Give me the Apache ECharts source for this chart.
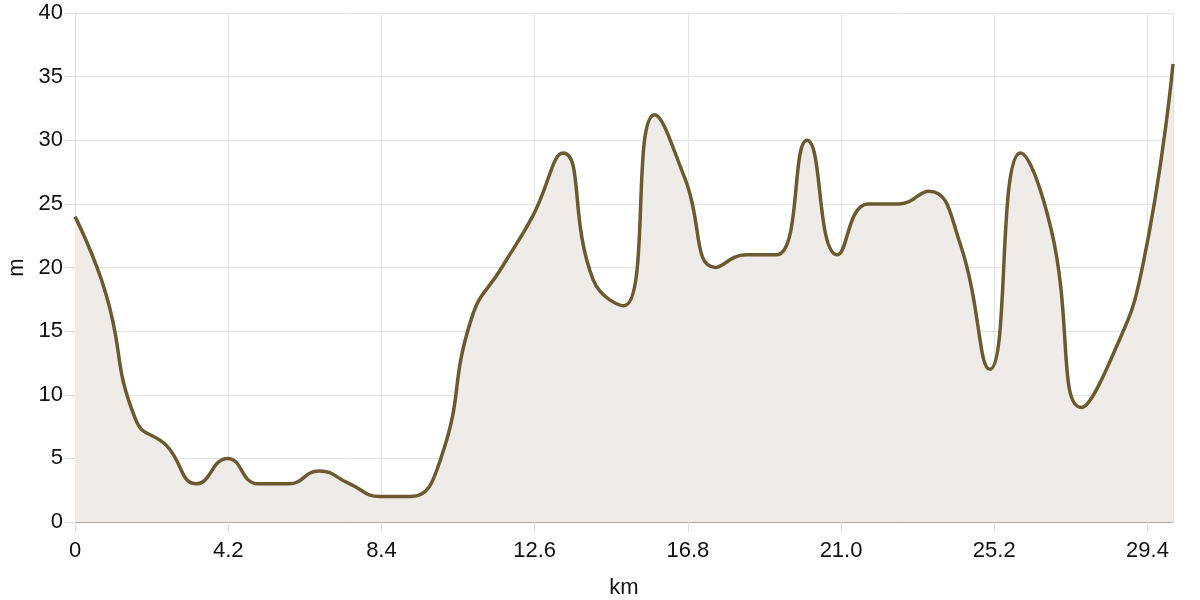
<!DOCTYPE html>
<html>
<head>
<meta charset="utf-8">
<script src="https://cdn.jsdelivr.net/npm/echarts@6/dist/echarts.min.js"></script>
<style>html,body{margin:0;padding:0;background:#fff}#c{width:1200px;height:600px}</style>
</head>
<body>
<div id="c"></div>
<script>
const distanceKm = [0, 0.84, 1.67, 2.51, 3.34, 4.18, 5.02, 5.85, 6.69, 7.53, 8.36, 9.2, 10.03, 10.87, 11.7, 12.54, 13.38, 14.21, 15.05, 15.89, 16.72, 17.56, 18.4, 19.23, 20.07, 20.9, 21.74, 22.58, 23.41, 24.25, 25.08, 25.92, 26.76, 27.59, 28.43, 29.26, 30.1];
const elevationM = [24, 18, 8, 6, 3, 5, 3, 3, 4, 3, 2, 2, 5, 16, 20, 24, 29, 19, 17, 32, 27, 20, 21, 21, 30, 21, 25, 25, 26, 22, 12, 29, 23, 9, 13, 20, 36];
const xAxisName = 'km';
const yAxisName = 'm';

const font = '"Liberation Sans", Arial, sans-serif';
const chart = echarts.init(document.getElementById('c'), null, {renderer: 'canvas'});
chart.setOption({
  animation: false,
  grid: {left: 75, right: 27, top: 13, bottom: 78, containLabel: false, outerBoundsMode: 'none'},
  xAxis: {
    type: 'value', min: 0, max: distanceKm[distanceKm.length - 1], interval: 4.2,
    name: xAxisName, nameLocation: 'middle', nameGap: 55,
    nameTextStyle: {color: '#111', fontSize: 22, fontFamily: font},
    axisLine: {show: true, lineStyle: {color: '#aaa', width: 1}},
    axisTick: {show: true, length: 10, lineStyle: {color: '#ddd'}},
    axisLabel: {color: '#111', fontSize: 22, fontFamily: font, margin: 18, showMaxLabel: false,
      formatter: v => v === 0 ? '0' : v.toFixed(1)},
    splitLine: {show: true, lineStyle: {color: '#e3e3e3', width: 1}}
  },
  yAxis: {
    type: 'value', min: 0, max: 40, interval: 5,
    name: yAxisName, nameLocation: 'middle', nameGap: 47,
    nameTextStyle: {color: '#111', fontSize: 22, fontFamily: font},
    axisLine: {show: true, lineStyle: {color: '#ddd', width: 1}},
    axisTick: {show: true, length: 10, lineStyle: {color: '#ddd'}},
    axisLabel: {color: '#111', fontSize: 22, fontFamily: font, margin: 12},
    splitLine: {show: true, lineStyle: {color: '#e3e3e3', width: 1}}
  },
  series: [{
    type: 'line',
    data: distanceKm.map((x, i) => [x, elevationM[i]]),
    smooth: true,
    showSymbol: false,
    lineStyle: {color: '#6b5a30', width: 3.5},
    itemStyle: {color: '#6b5a30'},
    areaStyle: {color: '#efebe8', opacity: 1}
  }]
});
</script>
</body>
</html>
